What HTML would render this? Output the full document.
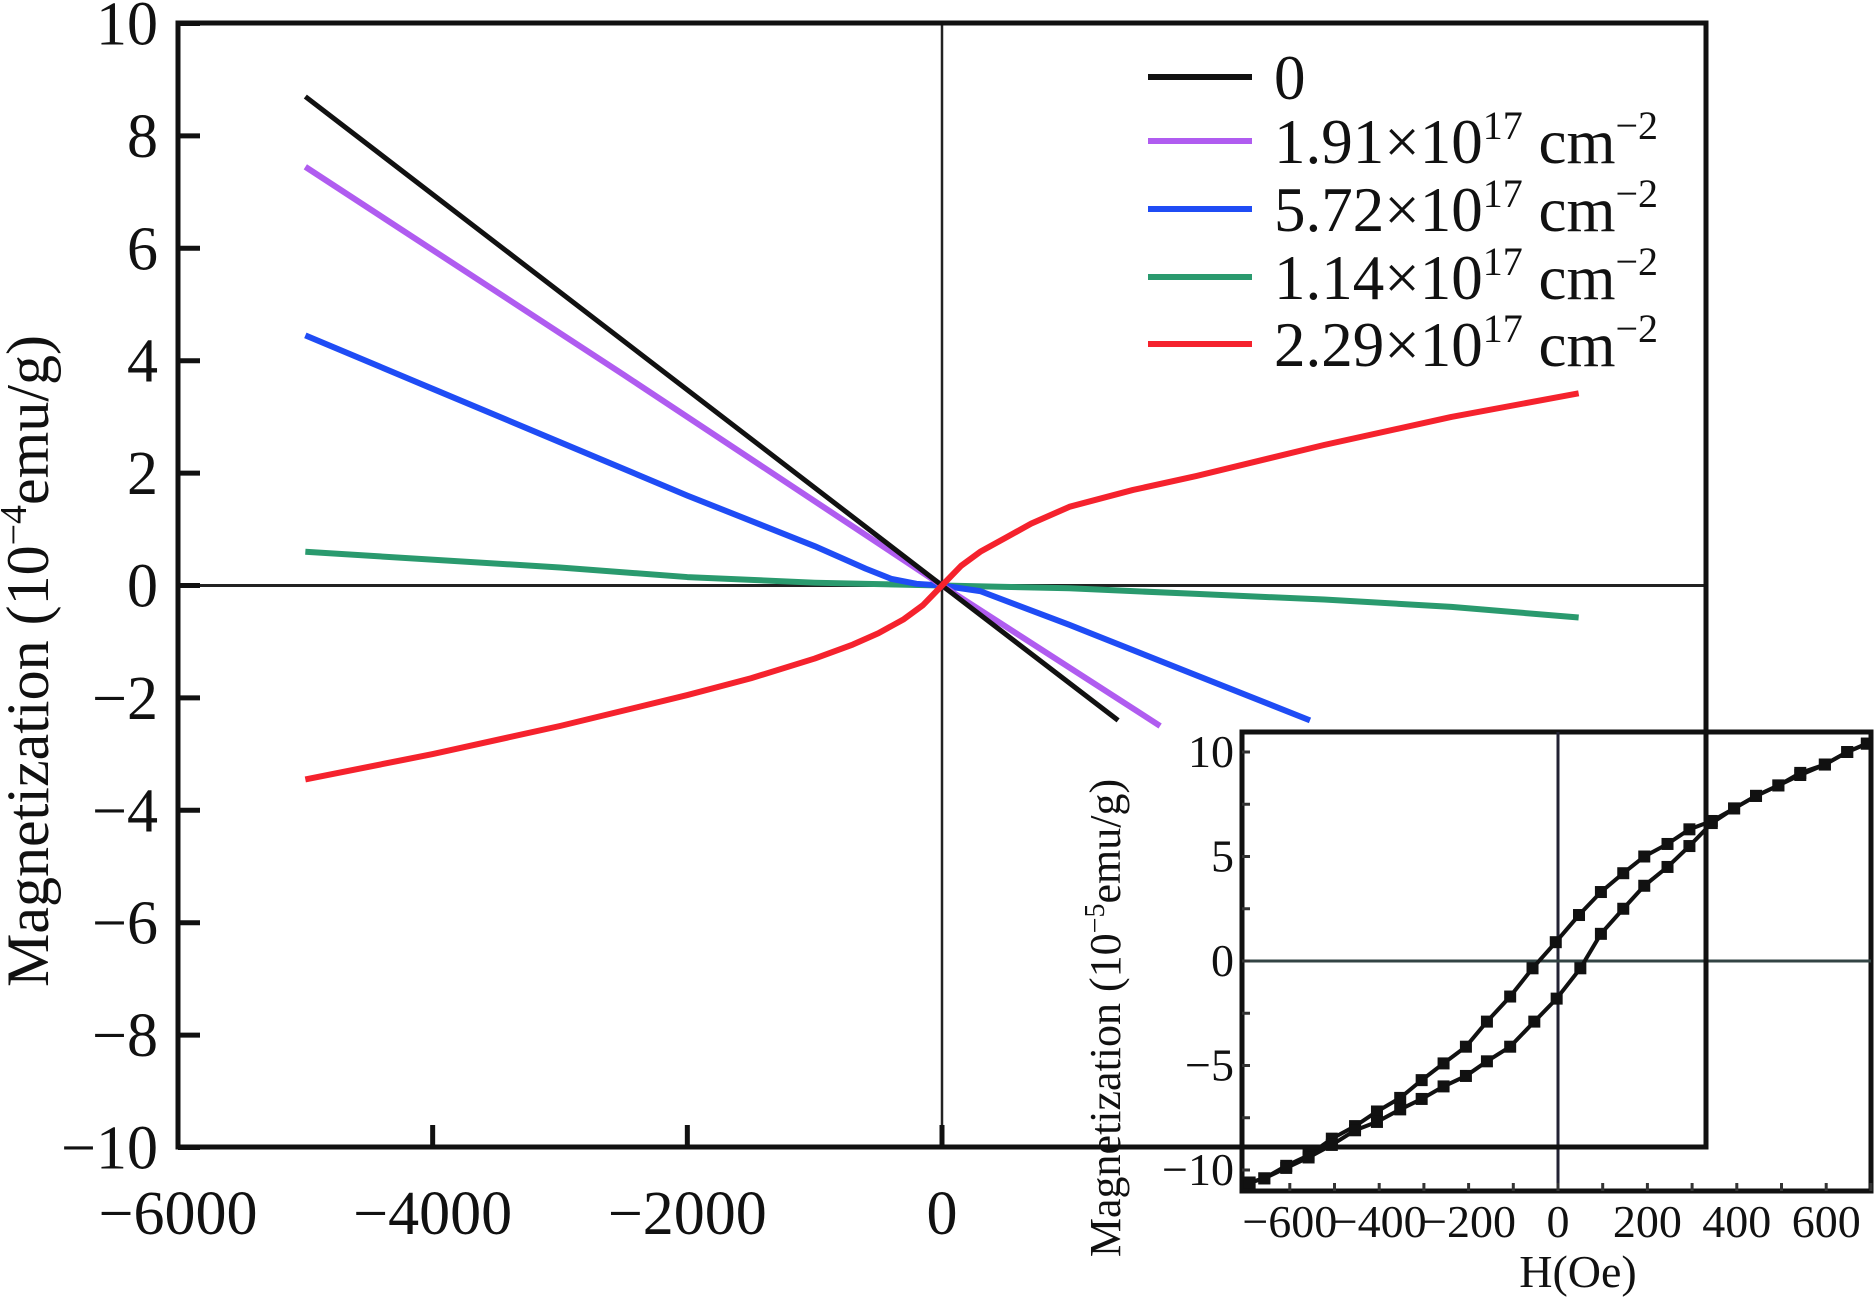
<!DOCTYPE html>
<html><head><meta charset="utf-8"><style>
html,body{margin:0;padding:0;background:#fff;}
svg{display:block;font-family:"Liberation Serif",serif;}
</style></head><body>
<svg id="chart" width="1875" height="1297" viewBox="0 0 1875 1297" xmlns="http://www.w3.org/2000/svg">
<g id="inset"></g>
<g id="main"></g>
</svg>
<script>
// ---- main chart data ----
const mainXTicks = [-6000,-4000,-2000,0];
const mainYTicks = [10,8,6,4,2,0,-2,-4,-6,-8,-10];
const seriesNames = ["0","1.91×10","5.72×10","1.14×10","2.29×10"];
const seriesColors = ["#111","#b05cf0","#1f4cf5","#2a9a6e","#f5222d"];
const s0H = [-5000,0,1383];
const s0M = [8.7,0,-2.4];
const s1H = [-5000,-2500,0,1713];
const s1M = [7.45,3.75,0,-2.5];
const s2H = [-5000,-4000,-3000,-2000,-1000,-600,-400,-200,0,300,1000,2000,2890];
const s2M = [4.45,3.5,2.55,1.6,0.7,0.3,0.12,0.03,0,-0.1,-0.7,-1.6,-2.4];
const s3H = [-5000,-3000,-2000,-1000,0,1000,2000,3000,4000,5000];
const s3M = [0.6,0.32,0.15,0.05,0,-0.05,-0.15,-0.25,-0.38,-0.57];
const s4H = [-5000,-4000,-3000,-2000,-1500,-1000,-700,-500,-300,-150,0,150,300,500,700,1000,1500,2000,3000,4000,5000];
const s4M = [-3.45,-3.0,-2.5,-1.95,-1.65,-1.3,-1.05,-0.85,-0.6,-0.35,0,0.35,0.6,0.85,1.1,1.4,1.7,1.95,2.5,3.0,3.42];
// ---- inset data ----
const insetXTicks = [-600,-400,-200,0,200,400,600];
const insetYTicks = [10,5,0,-5,-10];
const upH = [691,647,597,542,493,443,394,344,294,245,193,146,96,47,-5,-57,-107,-159,-206,-256,-305,-353,-405,-454,-506,-558,-608,-657,-690];
const upM = [10.4,10.0,9.4,8.9,8.4,7.9,7.3,6.7,6.3,5.6,5.0,4.2,3.3,2.2,0.9,-0.35,-1.7,-2.9,-4.1,-4.9,-5.7,-6.55,-7.2,-7.9,-8.5,-9.3,-9.8,-10.4,-10.6];
const loH = [-690,-657,-608,-558,-506,-454,-405,-353,-305,-256,-206,-159,-107,-53,-3,50,96,146,193,245,294,344,394,443,493,542,597,647,691];
const loM = [-10.6,-10.4,-9.9,-9.4,-8.8,-8.1,-7.7,-7.1,-6.6,-6.0,-5.5,-4.8,-4.1,-2.9,-1.8,-0.35,1.3,2.5,3.6,4.5,5.5,6.6,7.3,7.9,8.4,9.0,9.4,10.0,10.4];

const NS="http://www.w3.org/2000/svg";
function mk(parent,tag,attrs,text){const e=document.createElementNS(NS,tag);for(const k in attrs)e.setAttribute(k,attrs[k]);if(text!==undefined)e.textContent=text;parent.appendChild(e);return e;}

const mx = h => 942 + (h/6000)*764;
const my = m => 585.5 - m*56.2;
const ix = h => 1558 + h*0.447;
const iy = m => 961 - m*20.9;

const inset=document.getElementById('inset');
const main=document.getElementById('main');

// ---------- inset ----------
let r=mk(inset,'rect',{x:1242,y:732,width:629,height:459,fill:'#fff',stroke:'#111','stroke-width':5});

let l=mk(inset,'line',{x1:ix(0),y1:732,x2:ix(0),y2:1191,stroke:'#223',"stroke-width":3});

l=mk(inset,'line',{x1:1242,y1:iy(0),x2:1871,y2:iy(0),stroke:'#344',"stroke-width":3});

for(let h=-600;h<=700;h+=100){
  const t=mk(inset,'line',{x1:ix(h),y1:1191,x2:ix(h),y2:1183,stroke:'#333',"stroke-width":3});
  
}
for(let m=-10;m<=10;m+=2.5){
  const t=mk(inset,'line',{x1:1242,y1:iy(m),x2:1250,y2:iy(m),stroke:'#333',"stroke-width":3});
  
}
insetXTicks.forEach(v=>{
  const t=mk(inset,'text',{x:ix(v),y:1237,'font-size':46,'text-anchor':'middle',fill:'#111'},v<0?'−'+(-v):''+v);
  
});
insetYTicks.forEach(v=>{
  const t=mk(inset,'text',{x:1234,y:iy(v)+15,'font-size':46,'text-anchor':'end',fill:'#111'},v<0?'−'+(-v):''+v);
  
});
let tx=mk(inset,'text',{x:ix(0)+20,y:1287,'font-size':46,'text-anchor':'middle',fill:'#111'},'H(Oe)');

tx=mk(inset,'text',{x:0,y:0,'font-size':44,'text-anchor':'middle',fill:'#111',transform:'translate(1120,1018) rotate(-90)'});

tx.innerHTML='Magnetization (10<tspan dy="-16" font-size="28">−5</tspan><tspan dy="16">emu/g)</tspan>';
[[upH,upM,'inset-descending-branch'],[loH,loM,'inset-ascending-branch']].forEach(([H,M,name])=>{
  const p=mk(inset,'polyline',{points:H.map((h,i)=>ix(h)+','+iy(M[i])).join(' '),fill:'none',stroke:'#111','stroke-width':4});
  
  H.forEach((h,i)=>{
    const s=mk(inset,'rect',{x:ix(h)-6,y:iy(M[i])-6,width:12,height:12,fill:'#111'});
    
  });
});

// ---------- main ----------
l=mk(main,'line',{x1:mx(0),y1:23,x2:mx(0),y2:1147,stroke:'#222',"stroke-width":2.5});

l=mk(main,'line',{x1:191,y1:my(0),x2:1706,y2:my(0),stroke:'#222',"stroke-width":3});

const allH=[s0H,s1H,s2H,s3H,s4H], allM=[s0M,s1M,s2M,s3M,s4M];
const snames=['series-0','series-1-91e17','series-5-72e17','series-1-14e17','series-2-29e17'];
[3,2,1,0,4].forEach(k=>{
  const p=mk(main,'polyline',{points:allH[k].map((h,i)=>mx(h)+','+my(allM[k][i])).join(' '),fill:'none',stroke:seriesColors[k],'stroke-width':k==0?5:6,'stroke-linejoin':'round'});
  
});
let f=mk(main,'polyline',{points:'1706,23 178,23 178,1147 1706,1147',fill:'none',stroke:'#111','stroke-width':5});

f=mk(main,'line',{x1:1706,y1:20.5,x2:1706,y2:1149.5,stroke:'#111','stroke-width':5});

mainYTicks.forEach(v=>{
  const t=mk(main,'line',{x1:178,y1:my(v),x2:200,y2:my(v),stroke:'#111','stroke-width':5});
  
  const lb=mk(main,'text',{x:158,y:my(v)+21,'font-size':62,'text-anchor':'end',fill:'#111'},v<0?'−'+(-v):''+v);
  
});
mainXTicks.forEach(v=>{
  if(v>-6000){const t=mk(main,'line',{x1:mx(v),y1:1147,x2:mx(v),y2:1125,stroke:'#111','stroke-width':5});
  }
  const lb=mk(main,'text',{x:mx(v),y:1234,'font-size':62,'text-anchor':'middle',fill:'#111'},v<0?'−'+(-v):''+v);
  
});
tx=mk(main,'text',{x:0,y:0,'font-size':60,'text-anchor':'middle',fill:'#111',transform:'translate(48,661) rotate(-90)'});

tx.innerHTML='Magnetization (10<tspan dy="-22" font-size="38">−4</tspan><tspan dy="22">emu/g)</tspan>';
const legY=[77,141,209,277,344];
seriesNames.forEach((n,k)=>{
  const g=mk(main,'g',{});
  
  mk(g,'line',{x1:1148,y1:legY[k],x2:1252,y2:legY[k],stroke:seriesColors[k],'stroke-width':6});
  const t=mk(g,'text',{x:1274,y:legY[k]+22,'font-size':63,fill:'#111'});
  if(k==0)t.textContent='0';
  else t.innerHTML=n+'<tspan dy="-24" font-size="40">17</tspan><tspan dy="24"> cm</tspan><tspan dy="-24" font-size="40">−2</tspan>';
});
</script>
</body></html>
